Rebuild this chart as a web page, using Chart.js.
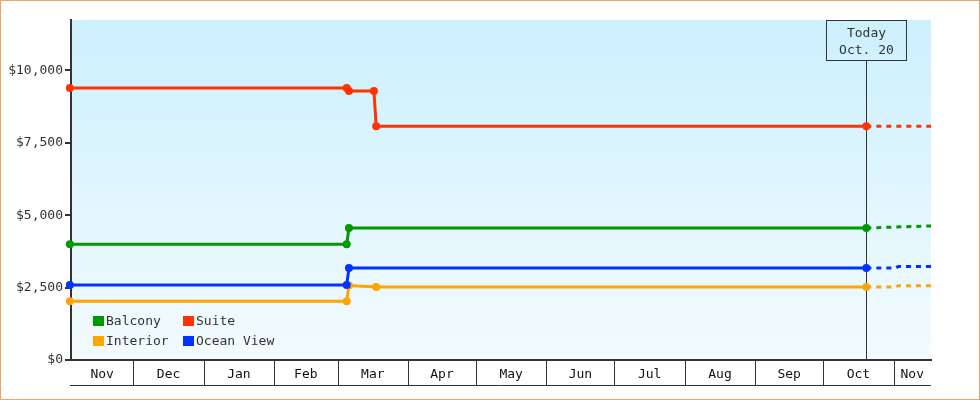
<!DOCTYPE html>
<html>
<head>
<meta charset="utf-8">
<script src="https://cdn.jsdelivr.net/npm/chart.js@4.4.0/dist/chart.umd.min.js"></script>
<style>
  html, body { margin: 0; padding: 0; background: #fff; }
  canvas { display: block; }
</style>
</head>
<body>
<canvas id="priceChart" width="980" height="400"></canvas>
<script>
const FONT = "'DejaVu Sans Mono', monospace";
Chart.defaults.font.family = FONT;
Chart.defaults.font.size = 13;
Chart.defaults.color = '#333';

// days counted from Nov 1 2022
const START = Date.UTC(2022, 10, 1);
function dayOf(s) { return (Date.parse(s + 'T00:00:00Z') - START) / 86400000; }

const monthLabels = ['Nov', 'Dec', 'Jan', 'Feb', 'Mar', 'Apr', 'May', 'Jun', 'Jul', 'Aug', 'Sep', 'Oct', 'Nov'];
const monthStarts = ['2022-11-01', '2022-12-01', '2023-01-01', '2023-02-01', '2023-03-01', '2023-04-01',
    '2023-05-01', '2023-06-01', '2023-07-01', '2023-08-01', '2023-09-01', '2023-10-01', '2023-11-01', '2023-12-01'];
const priceTicks = [0, 2500, 5000, 7500, 10000];
const todayDate = '2023-10-20';
const todayText = ['Today', 'Oct. 20'];

const seriesNames = ['Balcony', 'Interior', 'Suite', 'Ocean View'];
const seriesColors = ['#009900', '#ffa500', '#ff3300', '#0033ff'];

const balconyDates = ['2022-11-03', '2023-03-05', '2023-03-06', '2023-10-20', '2023-11-18'];
const balconyPrices = [4000, 4000, 4560, 4560, 4630];

const interiorDates = ['2022-11-03', '2023-03-05', '2023-03-06', '2023-03-18', '2023-10-20', '2023-11-02', '2023-11-03', '2023-11-18'];
const interiorPrices = [2030, 2030, 2570, 2520, 2520, 2520, 2565, 2565];

const suiteDates = ['2022-11-03', '2023-03-05', '2023-03-06', '2023-03-17', '2023-03-18', '2023-10-20', '2023-11-18'];
const suitePrices = [9390, 9390, 9290, 9290, 8070, 8070, 8070];

const oceanDates = ['2022-11-03', '2023-03-05', '2023-03-06', '2023-10-20', '2023-11-02', '2023-11-03', '2023-11-18'];
const oceanPrices = [2590, 2590, 3180, 3180, 3180, 3225, 3225];

const seriesDates = [balconyDates, interiorDates, suiteDates, oceanDates];
const seriesPrices = [balconyPrices, interiorPrices, suitePrices, oceanPrices];

const today = dayOf(todayDate);
const xMin = dayOf('2022-11-03') + 0.5;
const xMax = dayOf('2023-11-17') + 0.5;

const datasets = seriesNames.map((name, i) => ({
    label: name,
    data: seriesDates[i].map((d, j) => ({ x: dayOf(d), y: seriesPrices[i][j] })),
    borderColor: seriesColors[i],
    backgroundColor: seriesColors[i],
    borderWidth: 3,
    pointRadius: ctx => (ctx.raw && ctx.raw.x > today) ? 0 : 4,
    pointHoverRadius: 4,
    pointBorderWidth: 0,
    tension: 0,
    fill: false,
    clip: { left: false, top: false, right: 0, bottom: false },
    order: name === 'Ocean View' ? 0 : i + 1,
    segment: {
        borderDash: ctx => ctx.p0.parsed.x >= today ? [5, 5] : undefined
    }
}));

// plot background, today marker, month boxes, legend, frame
const decorPlugin = {
    id: 'decor',
    beforeDraw(chart) {
        const { ctx, chartArea: a } = chart;
        const g = ctx.createLinearGradient(0, a.top, 0, a.bottom);
        g.addColorStop(0, '#ccf0fd');
        g.addColorStop(1, '#f3fbfe');
        ctx.save();
        ctx.fillStyle = g;
        ctx.fillRect(a.left, a.top, a.right - a.left, a.bottom - a.top);
        ctx.restore();
    },
    beforeDatasetsDraw(chart) {
        const { ctx, chartArea: a } = chart;
        const x = Math.round(chart.scales.x.getPixelForValue(today)) + 0.5;
        ctx.save();
        ctx.strokeStyle = '#333';
        ctx.lineWidth = 1;
        ctx.beginPath();
        ctx.moveTo(x, a.top + 41);
        ctx.lineTo(x, a.bottom);
        ctx.stroke();
        ctx.restore();
    },
    afterDraw(chart) {
        const { ctx, chartArea: a } = chart;
        const xs = chart.scales.x;
        ctx.save();
        // month boxes under the axis
        ctx.strokeStyle = '#333';
        ctx.lineWidth = 1;
        ctx.beginPath();
        monthStarts.forEach(m => {
            const v = dayOf(m);
            if (v <= xMin || v >= xMax) return;
            const px = Math.round(xs.getPixelForValue(v)) + 0.5;
            ctx.moveTo(px, a.bottom);
            ctx.lineTo(px, a.bottom + 25);
        });
        ctx.moveTo(a.left - 1, a.bottom + 25.5);
        ctx.lineTo(a.right, a.bottom + 25.5);
        ctx.stroke();

        // today box
        const tx = Math.round(xs.getPixelForValue(today)) + 0.5;
        ctx.strokeRect(tx - 40, a.top + 0.5, 80, 40);
        ctx.fillStyle = '#333';
        ctx.font = '13px ' + FONT;
        ctx.textAlign = 'center';
        ctx.textBaseline = 'middle';
        ctx.fillText(todayText[0], tx, a.top + 13.5);
        ctx.fillText(todayText[1], tx, a.top + 31);

        // legend, two per column
        ctx.textAlign = 'left';
        chart.data.datasets.forEach((ds, i) => {
            const col = Math.floor(i / 2), row = i % 2;
            const bx = a.left + 22 + col * 90;
            const by = a.bottom - 44 + row * 20;
            ctx.fillStyle = ds.borderColor;
            ctx.fillRect(bx, by, 11, 10);
            ctx.fillStyle = '#333';
            ctx.fillText(ds.label, bx + 13, by + 5.5);
        });

        // outer frame
        ctx.strokeStyle = '#eaa865';
        ctx.strokeRect(0.5, 0.5, chart.width - 1, chart.height - 1);
        ctx.restore();
    }
};

new Chart(document.getElementById('priceChart'), {
    type: 'line',
    data: { datasets: datasets },
    plugins: [decorPlugin],
    options: {
        responsive: false,
        animation: false,
        events: [],
        layout: { padding: { top: 20, right: 49, left: 0, bottom: 0 } },
        plugins: {
            legend: { display: false },
            tooltip: { enabled: false }
        },
        scales: {
            x: {
                type: 'linear',
                min: xMin,
                max: xMax,
                afterFit: s => { s.height = 40; },
                afterBuildTicks: s => {
                    const t = [];
                    for (let i = 0; i < monthLabels.length; i++) {
                        const lo = Math.max(dayOf(monthStarts[i]), xMin);
                        const hi = Math.min(dayOf(monthStarts[i + 1]), xMax);
                        t.push({ value: (lo + hi) / 2, label: monthLabels[i] });
                    }
                    s.ticks = t;
                },
                ticks: {
                    autoSkip: false,
                    maxRotation: 0,
                    padding: 7,
                    color: '#111',
                    callback: function (v, i) { return monthLabels[i]; }
                },
                grid: { display: false, drawTicks: false },
                border: { color: '#333', width: 2 }
            },
            y: {
                min: 0,
                max: 11740,
                afterFit: s => { s.width = 71; },
                afterBuildTicks: s => { s.ticks = priceTicks.map(v => ({ value: v })); },
                ticks: {
                    padding: 2,
                    color: '#333',
                    callback: v => '$' + v.toLocaleString('en-US')
                },
                grid: { drawOnChartArea: false, drawTicks: true, tickLength: 6, color: '#333', lineWidth: 2 },
                border: { color: '#333', width: 2 }
            }
        }
    }
});
</script>
</body>
</html>
